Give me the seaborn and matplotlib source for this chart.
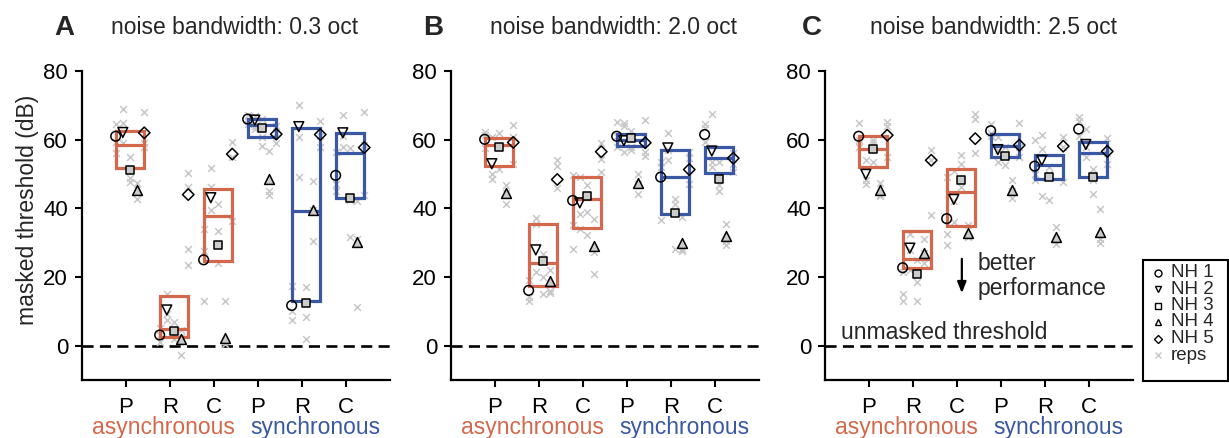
import numpy as np
import pandas as pd
import matplotlib
matplotlib.use('Agg')
import matplotlib.pyplot as plt
import matplotlib.transforms as mtransforms
from matplotlib.patches import Rectangle
from matplotlib.lines import Line2D
import seaborn as sns

# ---------------- data ----------------
conditions = ['P', 'R', 'C', 'P', 'R', 'C']
groups = ['asynchronous', 'synchronous']
subjects = ['NH 1', 'NH 2', 'NH 3', 'NH 4', 'NH 5']
panel_letters = ['A', 'B', 'C']
panel_titles = ['noise bandwidth: 0.3 oct', 'noise bandwidth: 2.0 oct',
                'noise bandwidth: 2.5 oct']

# panel A (0.3 oct)
A_box_low = [51.8, 2.6, 24.8, 60.8, 13.1, 43.1]
A_box_mid = [58.5, 4.9, 37.8, 64.2, 39.1, 56.2]
A_box_high = [62.5, 14.6, 45.7, 66.0, 63.3, 62.0]
A_subj = [[61.0, 62.1, 51.2, 45.3, 62.0],
          [3.1, 10.4, 4.2, 1.9, 44.0],
          [25.0, 43.1, 29.2, 2.1, 55.8],
          [66.0, 65.7, 63.3, 48.5, 61.6],
          [11.7, 63.8, 12.4, 39.4, 61.5],
          [49.6, 62.0, 43.1, 30.2, 57.7]]
A_reps = [[[64.5, 59.4, 56.0], [68.8, 64.9, 58.9], [55.0, 48.7, 47.7], [47.5, 45.5, 42.8], [68.1, 58.9, 57.9]],
          [[5.0, 3.0, 1.0], [15.1, 9.2, 7.5], [6.8, 3.5, 2.0], [4.5, 2.5, -2.6], [50.3, 46.2, 28.2, 23.6]],
          [[34.0, 27.7, 13.1], [51.8, 46.2, 39.6], [41.4, 33.3, 24.1], [13.1, 1.5, 0.5], [59.4, 55.0, 36.2]],
          [[67.2, 65.5, 64.5], [67.0, 64.0, 63.0], [66.0, 60.8, 58.1], [56.7, 45.0, 44.0], [58.9, 62.0, 64.0]],
          [[17.5, 10.2, 7.5], [70.1, 60.8, 49.0], [17.0, 8.3, 1.9], [48.0, 39.5, 30.4], [65.4, 61.0, 58.0]],
          [[56.5, 47.0, 45.0], [67.2, 61.0, 57.9], [57.7, 42.5, 31.6], [42.0, 31.0, 11.2], [68.1, 58.5, 44.0]]]

# panel B (2.0 oct)
B_box_low = [52.4, 17.5, 34.3, 58.1, 38.4, 50.4]
B_box_mid = [58.4, 24.0, 42.7, 59.9, 49.1, 54.7]
B_box_high = [60.5, 35.5, 49.0, 61.6, 56.9, 57.9]
B_subj = [[60.1, 53.0, 57.9, 44.5, 59.2],
          [16.1, 27.9, 24.6, 18.7, 48.4],
          [42.3, 41.6, 43.5, 29.1, 56.5],
          [61.0, 59.7, 60.5, 47.4, 59.1],
          [49.1, 57.6, 38.7, 29.9, 51.3],
          [61.5, 56.7, 48.4, 31.9, 54.6]]
B_reps = [[[62.3, 61.3, 57.5], [60.9, 50.0, 48.4], [62.0, 58.0, 51.6], [46.7, 44.5, 41.2], [64.4, 60.9, 53.0]],
          [[19.0, 14.1, 13.0], [37.3, 35.3, 21.4], [26.8, 19.9, 15.1], [22.1, 15.2, 16.0], [54.0, 52.3, 46.0]],
          [[49.6, 35.0, 28.2], [49.2, 38.4, 34.1], [46.7, 38.9, 32.1], [37.0, 27.3, 20.9], [58.9, 54.5, 50.6]],
          [[65.2, 61.0, 58.0], [64.9, 64.0, 56.5], [62.5, 58.0, 56.9], [50.0, 47.0, 44.3], [65.6, 56.4, 55.2]],
          [[53.5, 52.0, 36.5], [61.8, 57.0, 54.0], [42.8, 41.3, 28.2], [37.5, 28.2, 27.5], [56.5, 54.7, 47.0]],
          [[64.7, 63.5, 59.4], [67.6, 53.5, 52.0], [53.5, 46.7, 45.0], [35.5, 30.5, 29.2], [56.0, 53.0, 50.6]]]

# panel C (2.5 oct)
C_box_low = [51.9, 22.7, 34.8, 55.0, 48.5, 49.0]
C_box_mid = [57.4, 25.3, 44.8, 58.2, 52.6, 56.2]
C_box_high = [61.0, 33.3, 51.6, 61.6, 55.5, 59.4]
C_subj = [[61.0, 49.9, 57.3, 45.3, 61.3],
          [22.7, 28.4, 20.9, 27.0, 54.0],
          [37.0, 42.6, 48.2, 32.9, 60.3],
          [62.6, 57.1, 55.3, 45.3, 58.4],
          [52.3, 54.0, 49.0, 31.6, 58.1],
          [63.1, 58.6, 49.1, 33.1, 56.6]]
C_reps = [[[64.9, 60.0, 58.0], [54.0, 48.2, 47.0], [60.0, 58.9, 53.5], [47.5, 44.0, 43.5], [65.2, 64.0, 55.0]],
          [[21.4, 15.1, 13.1], [32.6, 28.0, 22.0], [25.0, 18.5, 13.1], [31.0, 27.0, 24.0], [56.9, 54.0, 38.0]],
          [[49.1, 32.6, 29.4], [50.8, 42.0, 36.0], [55.5, 53.0, 46.2], [35.0, 32.0, 31.6], [67.6, 66.0, 56.0]],
          [[64.5, 62.0, 61.0], [60.8, 57.0, 53.5], [58.0, 55.0, 52.6], [48.2, 45.0, 43.0], [64.9, 58.0, 55.0]],
          [[59.9, 50.0, 48.2], [61.3, 57.4, 43.5], [52.0, 50.0, 42.3], [34.5, 31.0, 29.7], [60.9, 58.0, 47.7]],
          [[66.5, 65.5, 61.0], [63.0, 58.0, 55.0], [51.6, 48.2, 44.3], [39.9, 31.1, 30.0], [60.6, 56.0, 53.0]]]

# ---------------- style ----------------
sns.set_theme(style='ticks')
plt.rcParams['font.family'] = ['Liberation Sans', 'DejaVu Sans']

async_color = '#D4684C'
sync_color = '#3A58A3'
group_colors = [async_color, sync_color]
rep_color = '#c8c8c8'
subj_markers = ['o', 'v', 's', '^', 'D']
subj_sizes = [48, 50, 30, 50, 34]
subj_faces = ['none', 'none', '#cccccc', '#cccccc', 'none']

W, H = 1229, 438
fig = plt.figure(figsize=(W / 100, H / 100), dpi=100)
fig.patch.set_facecolor('white')

ax_lefts = [82, 451, 825]
ax_wpx, ax_bot, ax_top = 308, 380, 71
letter_x = [64, 433, 812]
title_x = [111, 490, 870]
center_shift = 0.09
col_step = 0.1625

panels = [(A_box_low, A_box_mid, A_box_high, A_subj, A_reps),
          (B_box_low, B_box_mid, B_box_high, B_subj, B_reps),
          (C_box_low, C_box_mid, C_box_high, C_subj, C_reps)]

for k, (blow, bmid, bhigh, subj, reps) in enumerate(panels):
    ax = fig.add_axes([ax_lefts[k] / W, (H - ax_bot) / H, ax_wpx / W, (ax_bot - ax_top) / H])
    ax.set_facecolor('white')

    rep_rows, subj_rows = [], []
    for i in range(len(conditions)):
        for j, s in enumerate(subjects):
            xpos = i + center_shift + (j - 2) * col_step
            subj_rows.append(dict(x=xpos, value=subj[i][j], subject=s))
            for v in reps[i][j]:
                rep_rows.append(dict(x=xpos, value=v))
    df_reps = pd.DataFrame(rep_rows)
    df_subj = pd.DataFrame(subj_rows)

    ax.axhline(0, color='black', lw=1.9, dashes=(4.2, 2.4), zorder=1)

    sns.scatterplot(data=df_reps, x='x', y='value', marker='x', color=rep_color,
                    s=24, linewidth=1.1, ax=ax, legend=False, zorder=2)

    for i in range(len(conditions)):
        c = group_colors[i // 3]
        x0 = i + center_shift - 2 * col_step
        ax.add_patch(Rectangle((x0, blow[i]), 4 * col_step, bhigh[i] - blow[i],
                               fill=False, ec=c, lw=2.3, zorder=3))
        ax.plot([x0, x0 + 4 * col_step], [bmid[i], bmid[i]], color=c, lw=2.3, zorder=3,
                solid_capstyle='butt')

    for j, s in enumerate(subjects):
        d = df_subj[df_subj.subject == s]
        sns.scatterplot(data=d, x='x', y='value', marker=subj_markers[j], s=subj_sizes[j],
                        facecolor=subj_faces[j], edgecolor='black', linewidth=1.1,
                        ax=ax, legend=False, zorder=4)

    ax.set_xlim(-1, 6)
    ax.set_ylim(-10, 80)
    ax.set_xticks(range(len(conditions)))
    ax.set_xticklabels(conditions)
    ax.set_yticks([0, 20, 40, 60, 80])
    ax.set_xlabel('')
    ax.set_ylabel('')
    for side in ['top', 'right']:
        ax.spines[side].set_visible(False)
    for side in ['left', 'bottom']:
        ax.spines[side].set_linewidth(1.6)
        ax.spines[side].set_color('black')
    ax.tick_params(axis='both', direction='out', length=5, width=1.5, colors='black',
                   labelsize=16)
    ax.tick_params(axis='x', pad=7)
    ax.tick_params(axis='y', pad=5)

    trans = mtransforms.blended_transform_factory(ax.transData, ax.transAxes)
    ax.text(0.86, -0.155, groups[0], transform=trans, ha='center', va='center',
            color=async_color, fontsize=16.5)
    ax.text(4.3, -0.155, groups[1], transform=trans, ha='center', va='center',
            color=sync_color, fontsize=16.5)

    fig.text(letter_x[k] / W, (H - 28) / H, panel_letters[k], ha='center', va='center',
             fontsize=20, fontweight='bold')
    fig.text(title_x[k] / W, (H - 28) / H, panel_titles[k], ha='left', va='center',
             fontsize=16.5)

    if k == 2:
        ax.text(-0.64, 2.0, 'unmasked threshold', ha='left', va='baseline', fontsize=16.5)
        ax.annotate('', xy=(2.11, 15.3), xytext=(2.11, 25.3),
                    arrowprops=dict(arrowstyle='-|>,head_length=0.55,head_width=0.22',
                                    color='black', lw=1.6, shrinkA=0, shrinkB=0))
        ax.text(2.46, 20.3, 'better\nperformance', ha='left', va='center', fontsize=16.5,
                linespacing=1.1)

fig.text(28 / W, (H - 210) / H, 'masked threshold (dB)', rotation=90, ha='center',
         va='center', fontsize=16.5)

# ---------------- legend ----------------
lx0, lx1, ly_top, ly_bot = 1143, 1228, 260, 381
fig.add_artist(Rectangle((lx0 / W, (H - ly_bot) / H), (lx1 - lx0) / W, (ly_bot - ly_top) / H,
                         transform=fig.transFigure, fill=False, ec='black', lw=1.5))
legend_labels = subjects + ['reps']
legend_markers = subj_markers + ['x']
row_y = [272.5, 289, 305.5, 322, 338.5, 355]
for r, (lab, mk) in enumerate(zip(legend_labels, legend_markers)):
    yy = (H - row_y[r]) / H
    if mk == 'x':
        fig.add_artist(Line2D([1158 / W], [yy], transform=fig.transFigure, marker='x', ms=4,
                              mew=1.0, color=rep_color, ls='none'))
    else:
        fig.add_artist(Line2D([1158 / W], [yy], transform=fig.transFigure, marker=mk,
                              ms=5 if mk not in ('s', 'D') else 4, mfc='white', mec='black',
                              mew=1.0, ls='none'))
    fig.text(1171 / W, yy, lab, ha='left', va='center', fontsize=13.5)

fig.savefig('out.png', dpi=100)
